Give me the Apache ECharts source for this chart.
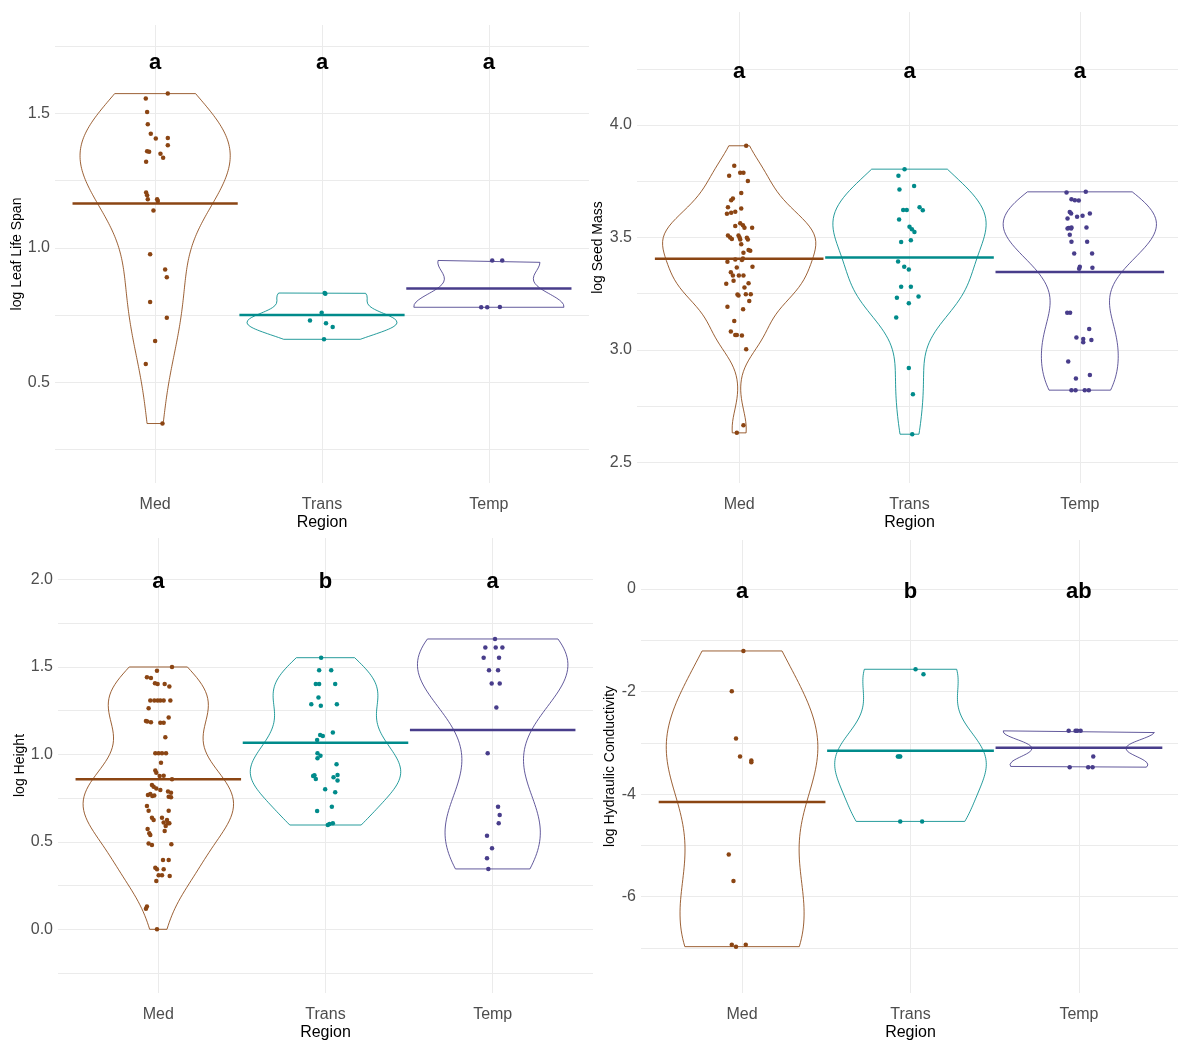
<!DOCTYPE html>
<html>
<head>
<meta charset="utf-8">
<script src="https://cdn.jsdelivr.net/npm/echarts@6/dist/echarts.min.js"></script>
<style>
html, body { margin: 0; padding: 0; background: #fff; }
#main { width: 1178px; height: 1050px; }
</style>
</head>
<body>
<div id="main"></div>
<script>
// categories + colours
const regions = ['Med', 'Trans', 'Temp'];
const colors = ['#8B4513', '#008B8B', '#483D8B'];

// points are [value, jitter] (jitter in category units)
const leafMed = [[1.555,-0.056],[1.573,0.076],[1.505,-0.048],[1.459,-0.044],[1.424,-0.026],[1.406,0.004],[1.408,0.076],[1.381,0.076],[1.359,-0.048],[1.357,-0.036],[1.350,0.032],[1.335,0.048],[1.320,-0.054],[1.206,-0.054],[1.195,-0.048],[1.180,-0.044],[1.180,0.012],[1.174,0.016],[1.139,-0.010],[0.976,-0.030],[0.919,0.060],[0.891,0.070],[0.799,-0.030],[0.740,0.070],[0.654,0.000],[0.568,-0.056],[0.347,0.044]];
const leafTrans = [[0.832,0.016],[0.829,0.020],[0.759,-0.002],[0.730,-0.072],[0.720,0.024],[0.706,0.064],[0.660,0.012]];
const leafTemp = [[0.953,0.020],[0.953,0.080],[0.779,-0.046],[0.779,-0.010],[0.780,0.066]];
const leafMeans = [1.165, 0.750, 0.849];
const leafLetters = ['a', 'a', 'a'];

const seedMed = [[3.908,0.041],[3.819,-0.029],[3.775,-0.059],[3.788,0.006],[3.788,0.025],[3.751,0.051],[3.698,0.012],[3.674,-0.037],[3.666,-0.047],[3.629,0.012],[3.634,-0.066],[3.606,-0.072],[3.610,-0.047],[3.614,-0.023],[3.563,0.006],[3.555,0.022],[3.543,0.031],[3.551,-0.023],[3.543,0.076],[3.509,-0.066],[3.500,-0.053],[3.493,-0.043],[3.509,-0.004],[3.500,0.002],[3.491,0.006],[3.499,0.045],[3.491,0.051],[3.470,0.012],[3.444,0.055],[3.441,0.065],[3.432,0.025],[3.407,0.022],[3.400,0.016],[3.402,-0.023],[3.392,-0.069],[3.370,0.078],[3.367,-0.014],[3.345,-0.049],[3.331,-0.037],[3.331,-0.002],[3.331,0.025],[3.308,-0.033],[3.294,-0.076],[3.296,0.055],[3.278,0.031],[3.247,-0.010],[3.242,-0.004],[3.248,0.039],[3.248,0.068],[3.217,0.059],[3.192,-0.069],[3.181,0.023],[3.129,-0.029],[3.082,-0.049],[3.066,-0.023],[3.066,-0.014],[3.064,0.016],[3.003,0.041],[2.665,0.025],[2.631,-0.014]];
const seedTrans = [[3.804,-0.029],[3.775,-0.065],[3.714,-0.059],[3.729,0.027],[3.622,-0.037],[3.622,-0.016],[3.634,0.059],[3.621,0.078],[3.580,-0.061],[3.548,0.000],[3.537,0.014],[3.524,0.029],[3.480,-0.049],[3.488,0.008],[3.393,-0.067],[3.370,-0.031],[3.358,-0.004],[3.281,-0.049],[3.281,0.008],[3.232,-0.074],[3.207,-0.004],[3.237,0.053],[3.144,-0.078],[2.920,-0.004],[2.803,0.020],[2.625,0.016]];
const seedTemp = [[3.700,-0.078],[3.703,0.035],[3.670,-0.049],[3.666,-0.029],[3.664,-0.006],[3.613,-0.059],[3.607,-0.051],[3.585,-0.072],[3.592,-0.016],[3.597,0.016],[3.607,0.059],[3.542,-0.065],[3.540,-0.051],[3.545,-0.049],[3.540,-0.072],[3.545,0.039],[3.512,-0.059],[3.481,-0.049],[3.481,0.043],[3.429,-0.033],[3.429,0.072],[3.370,0.000],[3.361,-0.004],[3.365,0.074],[3.165,-0.074],[3.165,-0.057],[3.093,0.055],[3.055,-0.020],[3.049,0.020],[3.044,0.068],[3.034,0.020],[2.948,-0.068],[2.873,-0.023],[2.888,0.059],[2.821,-0.049],[2.821,-0.025],[2.821,0.029],[2.821,0.053]];
const seedMeans = [3.405, 3.411, 3.347];
const seedLetters = ['a', 'a', 'a'];

const heightMed = [[1.499,0.082],[1.478,-0.008],[1.440,-0.068],[1.436,-0.044],[1.406,-0.020],[1.402,-0.004],[1.402,0.038],[1.387,0.066],[1.307,-0.048],[1.307,-0.024],[1.307,-0.004],[1.307,0.012],[1.307,0.032],[1.307,0.072],[1.263,-0.058],[1.190,-0.074],[1.187,-0.066],[1.183,-0.044],[1.181,0.012],[1.181,0.032],[1.211,0.062],[1.097,0.042],[1.006,-0.018],[1.006,0.002],[1.006,0.022],[1.006,0.046],[0.952,0.016],[0.907,-0.018],[0.895,-0.012],[0.876,0.008],[0.878,0.032],[0.857,0.082],[0.825,-0.038],[0.815,-0.028],[0.804,-0.012],[0.796,0.012],[0.773,-0.048],[0.768,-0.062],[0.762,-0.036],[0.764,-0.024],[0.787,0.058],[0.781,0.076],[0.758,0.062],[0.754,0.076],[0.705,-0.068],[0.678,-0.058],[0.678,0.062],[0.638,-0.038],[0.625,-0.028],[0.638,0.022],[0.625,0.052],[0.610,0.032],[0.590,0.044],[0.606,0.058],[0.606,0.066],[0.573,-0.064],[0.549,-0.054],[0.539,-0.048],[0.562,0.038],[0.491,-0.058],[0.482,-0.038],[0.486,0.078],[0.396,0.028],[0.396,0.062],[0.352,-0.018],[0.343,-0.008],[0.343,0.032],[0.309,0.002],[0.309,0.022],[0.305,0.068],[0.276,-0.012],[0.130,-0.068],[0.118,-0.074],[0.000,-0.008]];
const heightTrans = [[1.552,-0.026],[1.480,-0.038],[1.480,0.034],[1.402,-0.058],[1.402,-0.038],[1.402,0.058],[1.324,-0.042],[1.286,-0.085],[1.278,-0.028],[1.286,0.068],[1.110,-0.032],[1.105,-0.016],[1.124,0.044],[1.082,-0.050],[1.006,-0.048],[0.992,-0.030],[0.977,-0.048],[0.943,0.066],[0.880,-0.066],[0.859,-0.058],[0.876,-0.074],[0.869,0.048],[0.882,0.072],[0.850,0.072],[0.800,-0.002],[0.783,0.058],[0.701,0.038],[0.676,-0.050],[0.596,0.014],[0.602,0.024],[0.606,0.044]];
const heightTemp = [[1.659,0.014],[1.610,-0.044],[1.610,0.018],[1.610,0.058],[1.552,-0.054],[1.552,0.038],[1.480,-0.022],[1.480,0.032],[1.404,-0.006],[1.404,0.042],[1.267,0.022],[1.006,-0.030],[0.701,0.032],[0.653,0.042],[0.606,0.036],[0.535,-0.034],[0.463,-0.004],[0.406,-0.034],[0.345,-0.026]];
const heightMeans = [0.857, 1.066, 1.139];
const heightLetters = ['a', 'b', 'a'];

const condMed = [[-1.208,0.008],[-1.994,-0.061],[-2.916,-0.036],[-3.266,-0.012],[-3.344,0.055],[-3.377,0.055],[-5.175,-0.079],[-5.695,-0.051],[-6.935,-0.061],[-6.974,-0.036],[-6.935,0.022]];
const condTrans = [[-1.565,0.030],[-1.662,0.077],[-3.266,-0.075],[-3.266,-0.061],[-3.266,-0.068],[-4.532,-0.061],[-4.532,0.069]];
const condTemp = [[-2.766,-0.061],[-2.766,-0.020],[-2.766,-0.010],[-2.766,0.010],[-3.266,0.085],[-3.474,-0.055],[-3.474,0.055],[-3.474,0.081]];
const condMeans = [-4.154, -3.153, -3.095];
const condLetters = ['a', 'b', 'ab'];

// tick labels + gridline values for each y axis
const leafTicks = [0.5, 1.0, 1.5];
const leafGrid = [0.25, 0.5, 0.75, 1.0, 1.25, 1.5, 1.75];
const seedTicks = [2.5, 3.0, 3.5, 4.0];
const seedGrid = [2.5, 2.75, 3.0, 3.25, 3.5, 3.75, 4.0, 4.25];
const heightTicks = [0.0, 0.5, 1.0, 1.5, 2.0];
const heightGrid = [-0.25, 0, 0.25, 0.5, 0.75, 1.0, 1.25, 1.5, 1.75, 2.0];
const condTicks = [-6, -4, -2, 0];
const condGrid = [-7, -6, -5, -4, -3, -2, -1, 0];

const FONT = "'Liberation Sans', Arial, sans-serif";

const panels = [
    { title: 'log Leaf Life Span', groups: [leafMed, leafTrans, leafTemp], means: leafMeans, letters: leafLetters, letterY: 1.687,
      box: { left: 55, top: 25, width: 534, height: 458 }, yMin: 0.126, yMax: 1.828, ticks: leafTicks, grid: leafGrid, nameGap: 29, dec: 1 },
    { title: 'log Seed Mass', groups: [seedMed, seedTrans, seedTemp], means: seedMeans, letters: seedLetters, letterY: 4.238,
      box: { left: 637, top: 12, width: 545, height: 471 }, yMin: 2.408, yMax: 4.503, ticks: seedTicks, grid: seedGrid, nameGap: 32, dec: 1 },
    { title: 'log Height', groups: [heightMed, heightTrans, heightTemp], means: heightMeans, letters: heightLetters, letterY: 1.983,
      box: { left: 58, top: 538, width: 535, height: 455 }, yMin: -0.364, yMax: 2.236, ticks: heightTicks, grid: heightGrid, nameGap: 31, dec: 1 },
    { title: 'log Hydraulic Conductivity', groups: [condMed, condTrans, condTemp], means: condMeans, letters: condLetters, letterY: -0.048,
      box: { left: 641, top: 540, width: 539, height: 453 }, yMin: -7.878, yMax: 0.956, ticks: condTicks, grid: condGrid, nameGap: 24, dec: 0 }
];

// gaussian kde like R density(), bw.nrd0, trimmed to the data range, scaled to width
function quantile(s, p) {
    const h = (s.length - 1) * p, lo = Math.floor(h);
    const hi = Math.min(lo + 1, s.length - 1);
    return s[lo] + (h - lo) * (s[hi] - s[lo]);
}
function bwNrd0(v) {
    const n = v.length;
    const s = v.slice().sort((a, b) => a - b);
    const mean = v.reduce((a, b) => a + b, 0) / n;
    const sd = Math.sqrt(v.reduce((a, b) => a + (b - mean) * (b - mean), 0) / (n - 1));
    let lo = Math.min(sd, (quantile(s, 0.75) - quantile(s, 0.25)) / 1.34);
    if (!lo) lo = sd || Math.abs(s[0]) || 1;
    return 0.9 * lo * Math.pow(n, -0.2);
}
function violin(pts, cx) {
    const v = pts.map(p => p[0]);
    const bw = bwNrd0(v);
    const lo = Math.min(...v), hi = Math.max(...v);
    const steps = 150, ys = [], ds = [];
    for (let k = 0; k <= steps; k++) {
        const y = lo + (hi - lo) * k / steps;
        let d = 0;
        v.forEach(x => { const u = (y - x) / bw; d += Math.exp(-0.5 * u * u); });
        ys.push(y); ds.push(d);
    }
    const mx = Math.max(...ds);
    const right = ys.map((y, k) => [cx + 0.45 * ds[k] / mx, y]);
    const left = ys.map((y, k) => [cx - 0.45 * ds[k] / mx, y]).reverse();
    return right.concat(left, [right[0]]);
}

const grids = [], xAxes = [], yAxes = [], series = [];
panels.forEach((p, i) => {
    grids.push(Object.assign({ outerBoundsMode: 'none', containLabel: false }, p.box));
    xAxes.push({
        gridIndex: i, type: 'value', min: 0.4, max: 3.6,
        name: 'Region', nameLocation: 'middle', nameGap: 32,
        nameTextStyle: { fontSize: 16, color: '#000', fontFamily: FONT },
        axisLine: { show: false },
        axisTick: { show: false, customValues: [1, 2, 3] },
        axisLabel: { customValues: [1, 2, 3], formatter: v => regions[Math.round(v) - 1], fontSize: 16, color: '#4d4d4d', margin: 14, fontFamily: FONT },
        splitLine: { show: true, lineStyle: { color: '#ebebeb', width: 1 } }
    });
    yAxes.push({
        gridIndex: i, type: 'value', min: p.yMin, max: p.yMax,
        name: p.title, nameLocation: 'middle', nameGap: p.nameGap,
        nameTextStyle: { fontSize: 14, color: '#000', fontFamily: FONT },
        axisLine: { show: false },
        axisTick: { show: false, customValues: p.grid },
        axisLabel: { customValues: p.ticks, formatter: v => Number(v).toFixed(p.dec), fontSize: 16, color: '#4d4d4d', margin: 5, fontFamily: FONT },
        splitLine: { show: true, lineStyle: { color: '#ebebeb', width: 1 } }
    });
    p.groups.forEach((pts, g) => {
        const cx = g + 1;
        series.push({
            type: 'line', xAxisIndex: i, yAxisIndex: i, data: violin(pts, cx),
            symbol: 'none', smooth: false, silent: true, z: 2,
            lineStyle: { color: colors[g], width: 1, opacity: 0.85 }
        });
        series.push({
            type: 'scatter', xAxisIndex: i, yAxisIndex: i,
            data: pts.map(d => [cx + d[1], d[0]]),
            symbolSize: 4.5, itemStyle: { color: colors[g], opacity: 1 }, z: 3
        });
        series.push({
            type: 'line', xAxisIndex: i, yAxisIndex: i,
            data: [[cx - 0.495, p.means[g]], [cx + 0.495, p.means[g]]],
            symbol: 'none', silent: true, z: 4,
            lineStyle: { color: colors[g], width: 2.5 }
        });
    });
    series.push({
        type: 'scatter', xAxisIndex: i, yAxisIndex: i, z: 5, silent: true,
        data: p.letters.map((t, g) => [g + 1, p.letterY, t]),
        symbolSize: 1, itemStyle: { color: 'rgba(0,0,0,0)' },
        label: { show: true, position: 'inside', formatter: q => q.value[2], fontSize: 22, fontWeight: 'bold',
                 color: '#000', opacity: 1, textBorderWidth: 0, fontFamily: FONT }
    });
});

let myChart = echarts.init(document.getElementById('main'));
myChart.setOption({
    animation: false,
    backgroundColor: '#fff',
    grid: grids,
    xAxis: xAxes,
    yAxis: yAxes,
    series: series
});
</script>
</body>
</html>
